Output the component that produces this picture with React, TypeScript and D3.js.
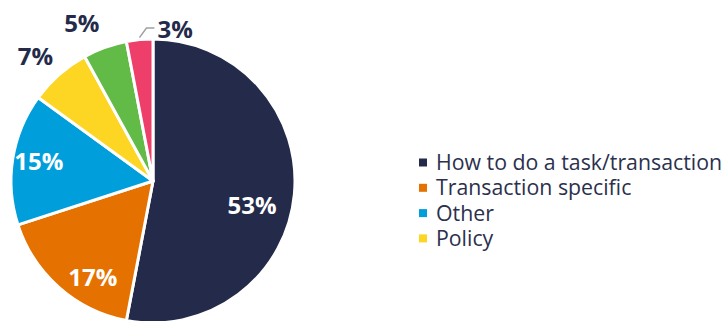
import React from "react";
import * as d3 from "d3";

const categories = ["How to do a task/transaction", "Transaction specific", "Other", "Policy", "Category 5", "Category 6"];
const values = [53, 17, 15, 7, 5, 3];
const colors = ["#242b4a", "#e57200", "#009fdb", "#fdd523", "#63bb47", "#ee3f6b"];
const legendCount = 4;

const W = 724, H = 321;
const cx = 153, cy = 181, R = 142;

export default function App() {
  const pie = d3.pie<number>().sort(null).value((d) => d)(values);
  const arc = d3.arc<d3.PieArcDatum<number>>().innerRadius(0).outerRadius(R);
  const inner = d3.arc<d3.PieArcDatum<number>>().innerRadius(R * 0.8).outerRadius(R * 0.8);
  const outer = d3.arc<d3.PieArcDatum<number>>().innerRadius(R * 1.21).outerRadius(R * 1.21);
  const nudge: Record<number, [number, number]> = { 0: [-14, 14], 1: [15, 11], 2: [-2, -2], 3: [-4, 4], 4: [-13, 4] };

  return (
    <svg width={W} height={H} style={{ position: "absolute", left: 0, top: 0 }} fontFamily="'Open Sans', sans-serif">
      <g transform={`translate(${cx},${cy})`}>
        {pie.map((p, i) => (
          <path key={i} d={arc(p) || ""} fill={colors[i]} stroke="#fff" strokeWidth={3} strokeLinejoin="round" />
        ))}
        {pie.map((p, i) => {
          const isOut = values[i] < 10;
          if (i === 5) {
            const a = (p.startAngle + p.endAngle) / 2;
            const x0 = Math.sin(a) * (R + 2), y0 = -Math.cos(a) * (R + 2);
            const x1 = x0 + 7, y1 = -R - 11;
            const x2 = x1 + 8;
            return (
              <g key={i}>
                <path d={`M${x0},${y0}L${x1},${y1}L${x2},${y1}`} fill="none" stroke="#a0a0a0" strokeWidth={1.5} />
                <text x={x2 + 3} y={y1 + 1} dy="0.36em" fontSize={24} fontWeight={700} fill="#242b4a">{values[i]}%</text>
              </g>
            );
          }
          const [x, y] = (isOut ? outer : inner).centroid(p);
          const n = nudge[i] || [0, 0];
          return (
            <text key={i} x={x + n[0]} y={y + n[1]} dy="0.36em" textAnchor="middle" fontSize={24} fontWeight={700}
              fill={isOut ? "#242b4a" : "#fff"}>{values[i]}%</text>
          );
        })}
      </g>
      <g transform="translate(419,162.5)">
        {categories.slice(0, legendCount).map((c, i) => (
          <g key={c} transform={`translate(0,${i * 25.3})`}>
            <rect x={0} y={-4} width={8} height={8} fill={colors[i]} />
            <text x={17} y={0} dy="0.36em" fontSize={21.3} fill="#2b304d">{c}</text>
          </g>
        ))}
      </g>
    </svg>
  );
}
